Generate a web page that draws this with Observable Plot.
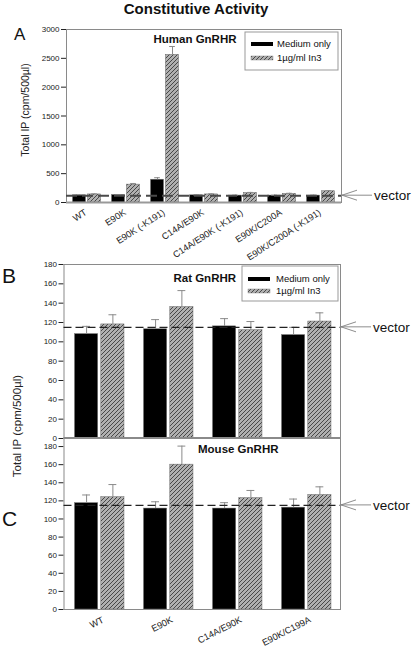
<!DOCTYPE html>
<html><head><meta charset="utf-8">
<script src="https://cdn.jsdelivr.net/npm/d3@7"></script>
<script src="https://cdn.jsdelivr.net/npm/@observablehq/plot@0.6"></script>
<style>
body{margin:0;background:#fff;}
#root{position:relative;width:414px;height:649px;overflow:hidden;font-family:"Liberation Sans",Arial,sans-serif;}
#root svg{position:absolute;left:0;}
[aria-label="panel-title"] text{text-decoration:underline;}
</style></head><body>
<svg width="0" height="0" style="position:absolute"><defs>
<pattern id="hatch" patternUnits="userSpaceOnUse" width="4" height="4">
<rect width="4" height="4" fill="#b0b0b0"/>
<path d="M-1,1 l2,-2 M0,4 l4,-4 M3,5 l2,-2" stroke="#3c3c3c" stroke-width="0.9"/>
</pattern></defs></svg>
<div id="root"></div>
<script>
// ---- data ----
const seriesNames = ["Medium only", "1µg/ml In3"];

const humanCats = ["WT","E90K","E90K (-K191)","C14A/E90K","C14A/E90K (-K191)","E90K/C200A","E90K/C200A (-K191)"];
const humanMedium    = [125, 130, 395, 125, 120, 120, 120];
const humanMediumErr = [132, 138, 430, 132, 127, 127, 127];
const humanIn3       = [140, 310, 2560, 140, 165, 150, 195];
const humanIn3Err    = [150, 330, 2705, 150, 175, 160, 205];
const humanVector = 118;
const humanTicks = [0, 500, 1000, 1500, 2000, 2500, 3000];

const ratCats = ["WT","E90K","C14A/E90K","E90K/C200A"];
const ratMedium    = [108, 113, 116, 107];
const ratMediumErr = [116, 123, 124, 115];
const ratIn3       = [118, 136, 112, 121];
const ratIn3Err    = [128, 153, 121, 130];
const ratVector = 115;

const mouseCats = ["WT","E90K","C14A/E90K","E90K/C199A"];
const mouseMedium    = [117.5, 111.5, 111.5, 112.5];
const mouseMediumErr = [126.5, 119, 118, 122];
const mouseIn3       = [124, 160, 123, 126.5];
const mouseIn3Err    = [138, 180.5, 131.5, 135.5];
const mouseVector = 115;

const smallTicks = [0, 20, 40, 60, 80, 100, 120, 140, 160, 180];

// ---- helpers ----
const FONT = "Liberation Sans, Arial, sans-serif";

function legendMark(box) {
  return (index, scales, values, dims) => {
    const right = dims.width - dims.marginRight;
    const x = right - box.insetRight - box.w, y = dims.marginTop + box.insetTop;
    const g = d3.create("svg:g");
    g.append("rect").attr("x", x).attr("y", y).attr("width", box.w).attr("height", box.h)
      .attr("fill", "white").attr("stroke", "#999");
    seriesNames.forEach((name, i) => {
      const cy = y + box.rows[i];
      g.append("rect").attr("x", x + 6).attr("y", cy - 2).attr("width", 22).attr("height", 4)
        .attr("fill", i === 0 ? "black" : "url(#hatch)").attr("stroke", i === 0 ? "none" : "#777").attr("stroke-width", 0.4);
      g.append("text").attr("x", x + box.textX).attr("y", cy).attr("dy", "0.35em")
        .attr("text-anchor", "start").attr("font-size", 9.5).attr("fill", "#111").text(name);
    });
    return g.node();
  };
}

function vectorMark(v, fontSize) {
  return (index, scales, values, dims) => {
    const y = scales.y(v), x0 = dims.width - dims.marginRight;
    const g = d3.create("svg:g");
    g.append("path")
      .attr("d", `M${x0 + 1},${y}L${x0 + 31},${y}M${x0 + 16},${y - 5}L${x0 + 1},${y}L${x0 + 16},${y + 5}`)
      .attr("fill", "none").attr("stroke", "#808080").attr("stroke-width", 0.9);
    g.append("text").attr("x", x0 + 33).attr("y", y).attr("dy", "0.35em").attr("text-anchor", "start")
      .attr("font-size", fontSize).attr("fill", "#111").text("vector");
    return g.node();
  };
}

function panel(cfg) {
  const rows = cfg.cats.map((c, i) => ({cat: c, med: cfg.med[i], medErr: cfg.medErr[i], in3: cfg.in3[i], in3Err: cfg.in3Err[i]}));
  const bw = (414 - cfg.ml - cfg.mr) / cfg.cats.length;
  const bL = cfg.offset, bR = bw - cfg.offset - cfg.barW;
  const gL = cfg.offset + cfg.barW + cfg.gap, gR = bw - gL - cfg.barW;
  const bC = cfg.offset + cfg.barW / 2, gC = gL + cfg.barW / 2;
  const cap = cfg.cap;
  const marks = [
    Plot.barY(rows, {x: "cat", y: "med", fill: "black", stroke: "#777", strokeWidth: 0.5, insetLeft: bL, insetRight: bR}),
    Plot.barY(rows, {x: "cat", y: "in3", fill: "url(#hatch)", stroke: "#666", strokeWidth: 0.5, insetLeft: gL, insetRight: gR}),
    Plot.ruleX(rows, {x: "cat", y1: "med", y2: "medErr", dx: bC - bw / 2, stroke: "#8a8a8a"}),
    Plot.tickY(rows, {x: "cat", y: "medErr", insetLeft: bC - cap / 2, insetRight: bw - bC - cap / 2, stroke: "#8a8a8a"}),
    Plot.ruleX(rows, {x: "cat", y1: "in3", y2: "in3Err", dx: gC - bw / 2, stroke: "#8a8a8a"}),
    Plot.tickY(rows, {x: "cat", y: "in3Err", insetLeft: gC - cap / 2, insetRight: bw - gC - cap / 2, stroke: "#8a8a8a"}),
    Plot.frame({stroke: "#8a8a8a"}),
    ...(cfg.baseLine ? [Plot.ruleY([0], {stroke: "#999", strokeWidth: 2})] : []),
    Plot.ruleY([cfg.vector], {stroke: cfg.dash.stroke, strokeWidth: cfg.dash.width, strokeDasharray: cfg.dash.array}),
    vectorMark(cfg.vector, 13.5),
    Plot.text([cfg.title], {text: d => d, frameAnchor: "top", dx: cfg.titleDx, dy: cfg.titleDy, lineAnchor: "middle",
      fontWeight: "bold", fontSize: 11.5, fill: "#111", ariaLabel: "panel-title"}),
    ...(cfg.legend ? [legendMark(cfg.legend)] : []),
    ...(cfg.xLabels ? [Plot.text(cfg.cats, {x: d => d, text: d => d, frameAnchor: "bottom", rotate: cfg.xLabels.rotate,
      textAnchor: "end", lineAnchor: "top", fontSize: 9.2, fill: "#222", dx: cfg.xLabels.dx, dy: cfg.xLabels.dy})] : [])
  ];
  const svg = Plot.plot({
    width: 414, height: cfg.height,
    marginLeft: cfg.ml, marginRight: cfg.mr, marginTop: cfg.mt, marginBottom: cfg.mb,
    style: {fontFamily: FONT, fontSize: "8px", color: "#222", background: "transparent", overflow: "visible"},
    x: {domain: cfg.cats, padding: 0, axis: null},
    y: {domain: cfg.yDomain, ticks: cfg.yTicks, tickFormat: d3.format("d"), tickSize: 5, tickPadding: 2, label: null},
    marks
  });
  svg.style.top = cfg.top + "px";
  return svg;
}

const root = document.getElementById("root");

root.appendChild(panel({
  cats: humanCats, med: humanMedium, medErr: humanMediumErr, in3: humanIn3, in3Err: humanIn3Err,
  vector: humanVector, yDomain: [0, 3000], yTicks: humanTicks,
  top: 20, height: 250, mt: 9, mb: 68, ml: 66, mr: 73,
  offset: 5.5, barW: 13.3, gap: 1.7, cap: 6, baseLine: true,
  xLabels: {dx: -3, dy: 6, rotate: -33},
  dash: {stroke: "#4a4a4a", width: 2, array: "11,5"},
  title: "Human GnRHR", titleDx: -9, titleDy: 10,
  legend: {insetRight: 3, insetTop: 3, w: 93, h: 38, rows: [12, 26], textX: 32}
}));

root.appendChild(panel({
  cats: ratCats, med: ratMedium, medErr: ratMediumErr, in3: ratIn3, in3Err: ratIn3Err,
  vector: ratVector, yDomain: [0, 180], yTicks: smallTicks,
  top: 240, height: 200, mt: 24, mb: 2, ml: 63.5, mr: 74,
  offset: 10.5, barW: 23.3, gap: 3, cap: 8, baseLine: false,
  xLabels: null,
  dash: {stroke: "#222", width: 1.2, array: "8,4"},
  title: "Rat GnRHR", titleDx: 2.5, titleDy: 14,
  legend: {insetRight: 2, insetTop: 2, w: 96, h: 35, rows: [13, 25], textX: 34}
}));

root.appendChild(panel({
  cats: mouseCats, med: mouseMedium, medErr: mouseMediumErr, in3: mouseIn3, in3Err: mouseIn3Err,
  vector: mouseVector, yDomain: [0, 190], yTicks: smallTicks,
  top: 430, height: 219, mt: 7, mb: 40, ml: 63.5, mr: 74,
  offset: 10.5, barW: 23.3, gap: 3, cap: 8, baseLine: false,
  xLabels: {dx: 2.5, dy: 6.5, rotate: -27},
  dash: {stroke: "#222", width: 1.2, array: "8,4"},
  title: "Mouse GnRHR", titleDx: 36, titleDy: 12,
  legend: null
}));

// overlay text: title, panel letters, axis titles
const ov = d3.select(root).append("svg").attr("width", 414).attr("height", 649)
  .style("top", "0px").style("pointer-events", "none").attr("font-family", FONT);
ov.append("text").attr("x", 196).attr("y", 13.5).attr("text-anchor", "middle")
  .attr("font-weight", "bold").attr("font-size", 15).attr("fill", "#111").text("Constitutive Activity");
ov.append("text").attr("x", 14).attr("y", 40).attr("font-size", 17).attr("fill", "#111").text("A");
ov.append("text").attr("x", 2).attr("y", 283).attr("font-size", 21).attr("fill", "#111").text("B");
ov.append("text").attr("x", 2).attr("y", 526).attr("font-size", 21).attr("fill", "#111").text("C");
ov.append("text").attr("transform", "translate(29,110) rotate(-90)").attr("text-anchor", "middle")
  .attr("font-size", 10.5).attr("fill", "#222").text("Total IP (cpm/500µl)");
ov.append("text").attr("transform", "translate(21,426) rotate(-90)").attr("text-anchor", "middle")
  .attr("font-size", 11.5).attr("fill", "#222").text("Total IP (cpm/500µl)");
</script>
</body></html>
